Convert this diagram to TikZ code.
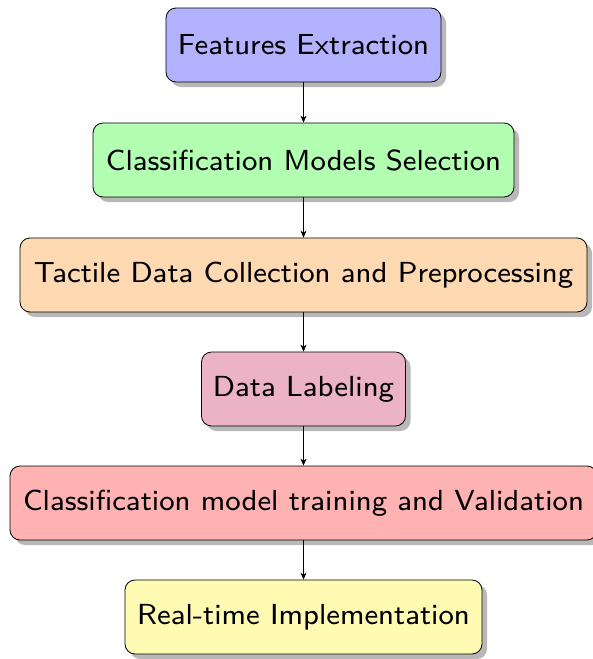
\documentclass[tikz,border=0pt]{standalone}
\usepackage{fontspec}
\newfontfamily\boxfont{lmsans8-regular.otf}
\usetikzlibrary{shadows,arrows.meta}
\begin{document}
\begin{tikzpicture}[x=1pt,y=-1pt,
  stepbox/.style={draw=black, line width=0.8pt, rounded corners=10pt, minimum height=74pt, inner sep=0pt,
    font=\boxfont\fontsize{29}{35}\selectfont,
    drop shadow={shadow xshift=5pt, shadow yshift=-5pt, fill=black!28, opacity=1}},
  conn/.style={-{Stealth[length=7pt,width=6pt]}, line width=0.6pt}]
\useasboundingbox (0,0) rectangle (593,659);
\node[stepbox, fill=blue!30, minimum width=275pt] (n1) at (303.5,45) {Features Extraction};
\node[stepbox, fill=green!30, minimum width=421pt] (n2) at (303.5,160) {Classification Models Selection};
\node[stepbox, fill=orange!30, minimum width=567pt] (n3) at (303.5,275) {Tactile Data Collection and Preprocessing};
\node[stepbox, fill=purple!30, minimum width=204pt] (n4) at (303.5,389) {Data Labeling};
\node[stepbox, fill=red!30, minimum width=587pt] (n5) at (303.5,503) {Classification model training and Validation};
\node[stepbox, fill=yellow!30, minimum width=357pt] (n6) at (303.5,617) {Real-time Implementation};
\draw[conn] (n1) -- (n2);
\draw[conn] (n2) -- (n3);
\draw[conn] (n3) -- (n4);
\draw[conn] (n4) -- (n5);
\draw[conn] (n5) -- (n6);
\end{tikzpicture}
\end{document}
